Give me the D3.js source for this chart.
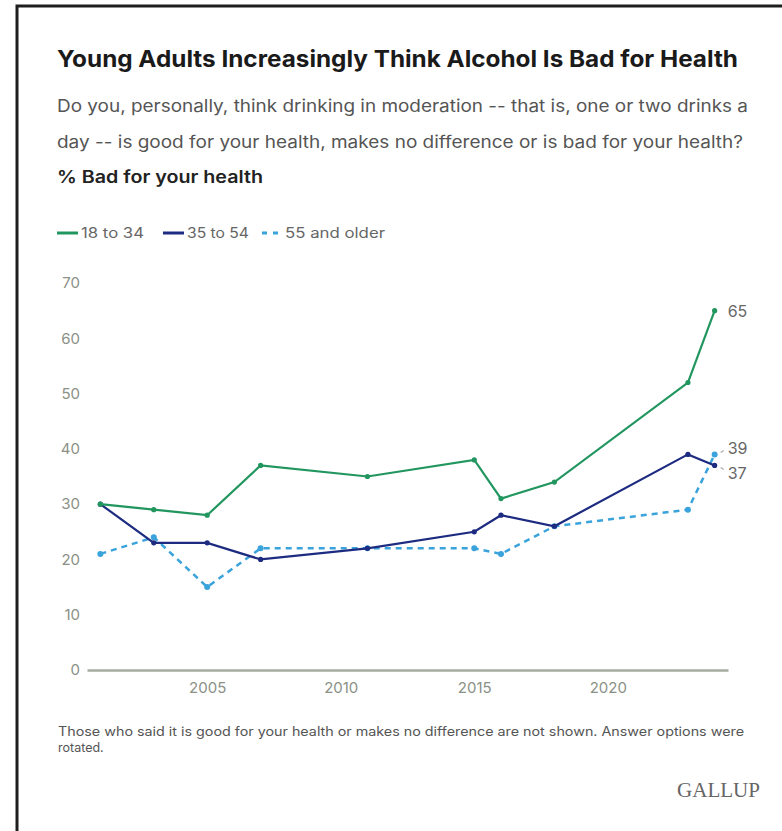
<!DOCTYPE html>
<html>
<head>
<meta charset="utf-8">
<script src="https://cdn.jsdelivr.net/npm/d3@7"></script>
<style>
	body { margin: 0; background: #fff; }
	svg { display: block; font-family: Inter, Roboto, "Liberation Sans", sans-serif; }
</style>
</head>
<body>
<svg id="chart" width="782" height="831"></svg>
<script>
// survey years and the three age groups (% saying "bad for your health")
var years = [2001, 2003, 2005, 2007, 2011, 2015, 2016, 2018, 2023, 2024];
var young = [30, 29, 28, 37, 35, 38, 31, 34, 52, 65];
var middle = [30, 23, 23, 20, 22, 25, 28, 26, 39, 37];
var older = [21, 24, 15, 22, 22, 22, 21, 26, 29, 39];
var groupNames = ["18 to 34", "35 to 54", "55 and older"];
var yTicks = [0, 10, 20, 30, 40, 50, 60, 70];
var xTicks = [2005, 2010, 2015, 2020];

var colors = ["#22965f", "#1d2b80", "#3aa3dc"];

var svg = d3.select("#chart");

// frame
svg.append("path")
	.attr("d", "M17,840 L17,6 L790,6")
	.attr("fill", "none")
	.attr("stroke", "#1e1e1e")
	.attr("stroke-width", 3);

function fitText(sel, width)
{
	sel.attr("textLength", width).attr("lengthAdjust", "spacingAndGlyphs");
}

svg.append("text")
	.attr("x", 57).attr("y", 67)
	.style("font-size", "23px").style("font-weight", 700).style("fill", "#1a1a1a")
	.text("Young Adults Increasingly Think Alcohol Is Bad for Health")
	.call(fitText, 681);

svg.append("text")
	.attr("x", 57).attr("y", 112)
	.style("font-size", "17px").style("fill", "#555")
	.text("Do you, personally, think drinking in moderation -- that is, one or two drinks a")
	.call(fitText, 691);

svg.append("text")
	.attr("x", 57).attr("y", 148)
	.style("font-size", "17px").style("fill", "#555")
	.text("day -- is good for your health, makes no difference or is bad for your health?")
	.call(fitText, 686);

svg.append("text")
	.attr("x", 57).attr("y", 183)
	.style("font-size", "17px").style("font-weight", 600).style("fill", "#222")
	.text("% Bad for your health")
	.call(fitText, 206);

// legend
var legendX = [57, 163, 262];
var legendW = [63, 62, 100];
var legend = svg.selectAll(".legend")
	.data(groupNames)
	.enter()
	.append("g")
	.attr("class", "legend")
	.attr("transform", function(d, i) { return "translate(" + legendX[i] + ",233)"; });

legend.append("line")
	.attr("x1", 0).attr("x2", function(d, i) { return i == 2 ? 16 : 21; })
	.attr("stroke", function(d, i) { return colors[i]; })
	.attr("stroke-width", 3)
	.attr("stroke-dasharray", function(d, i) { return i == 2 ? "5,6" : null; });

legend.append("text")
	.attr("x", function(d, i) { return i == 2 ? 23 : 24; })
	.attr("dy", "0.35em")
	.style("font-size", "14px").style("fill", "#666")
	.text(function(d) { return d; })
	.each(function(d, i) { d3.select(this).call(fitText, legendW[i]); });

// scales
var x = d3.scaleLinear().domain([2000.5, 2024.5]).range([87, 728]);
var y = d3.scaleLinear().domain([0, 70]).range([670, 283]);

svg.append("g")
	.attr("transform", "translate(80,0)")
	.call(d3.axisLeft(y).tickValues(yTicks).tickSize(0).tickPadding(0))
	.call(function(g) { g.select(".domain").remove(); })
	.selectAll("text")
	.style("font-size", "15px").style("fill", "#8b9187")
	.style("font-family", "Inter, Roboto, sans-serif");

var xAxis = svg.append("g")
	.attr("transform", "translate(0,670)")
	.call(d3.axisBottom(x).tickValues(xTicks).tickFormat(d3.format("d")).tickSize(0).tickPadding(12));
xAxis.select(".domain").attr("stroke", "#a6aca0").attr("stroke-width", 2.5);
xAxis.selectAll("text")
	.style("font-size", "15px").style("fill", "#8b9187")
	.style("font-family", "Inter, Roboto, sans-serif");

// series
var series = [young, middle, older].map(function(vals, i) {
	return { name: groupNames[i], color: colors[i], dashed: i == 2,
		values: vals.map(function(v, j) { return { year: years[j], value: v }; }) };
});

var line = d3.line()
	.x(function(d) { return x(d.year); })
	.y(function(d) { return y(d.value); });

// draw back to front: older, middle, young
var order = [series[2], series[1], series[0]];
var groups = svg.selectAll(".series")
	.data(order)
	.enter()
	.append("g")
	.attr("class", "series");

groups.append("path")
	.attr("d", function(d) { return line(d.values); })
	.attr("fill", "none")
	.attr("stroke", function(d) { return d.color; })
	.attr("stroke-width", function(d) { return d.dashed ? 2.5 : 2.2; })
	.attr("stroke-dasharray", function(d) { return d.dashed ? "6,5" : null; });

groups.selectAll("circle")
	.data(function(d) { return d.values.map(function(v) { return { v: v, c: d.color, dashed: d.dashed }; }); })
	.enter()
	.append("circle")
	.attr("cx", function(d) { return x(d.v.year); })
	.attr("cy", function(d) { return y(d.v.value); })
	.attr("r", function(d) { return d.dashed ? 3 : 2.6; })
	.attr("fill", function(d) { return d.c; });

// end labels, the two close ones pushed apart
var endLabels = [
	{ s: series[0], dy: 1, lead: false },
	{ s: series[2], dy: -6, lead: true },
	{ s: series[1], dy: 8, lead: true }
];
endLabels.forEach(function(e) {
	var last = e.s.values[e.s.values.length - 1];
	var py = y(last.value);
	if (e.lead)
	{
		var sgn = e.dy < 0 ? -1 : 1;
		svg.append("line")
			.attr("x1", x(last.year) + 6).attr("x2", x(last.year) + 9)
			.attr("y1", py + sgn * 2).attr("y2", py + sgn * 4)
			.attr("stroke", "#aaa").attr("stroke-width", 1.2);
	}
	svg.append("text")
		.attr("x", x(last.year) + 13)
		.attr("y", py + e.dy)
		.attr("dy", "0.35em")
		.style("font-size", "16px").style("fill", "#666")
		.text(last.value);
});

// footnote
svg.append("text")
	.attr("x", 58).attr("y", 736)
	.style("font-size", "12.5px").style("fill", "#555")
	.text("Those who said it is good for your health or makes no difference are not shown. Answer options were")
	.call(fitText, 686);
svg.append("text")
	.attr("x", 58).attr("y", 752)
	.style("font-size", "12.5px").style("fill", "#555")
	.text("rotated.");

svg.append("text")
	.attr("x", 760).attr("y", 797)
	.attr("text-anchor", "end")
	.style("font-family", "'Liberation Serif', 'DejaVu Serif', serif")
	.style("font-size", "20px").style("fill", "#666")
	.text("GALLUP")
	.call(fitText, 83);
</script>
</body>
</html>
